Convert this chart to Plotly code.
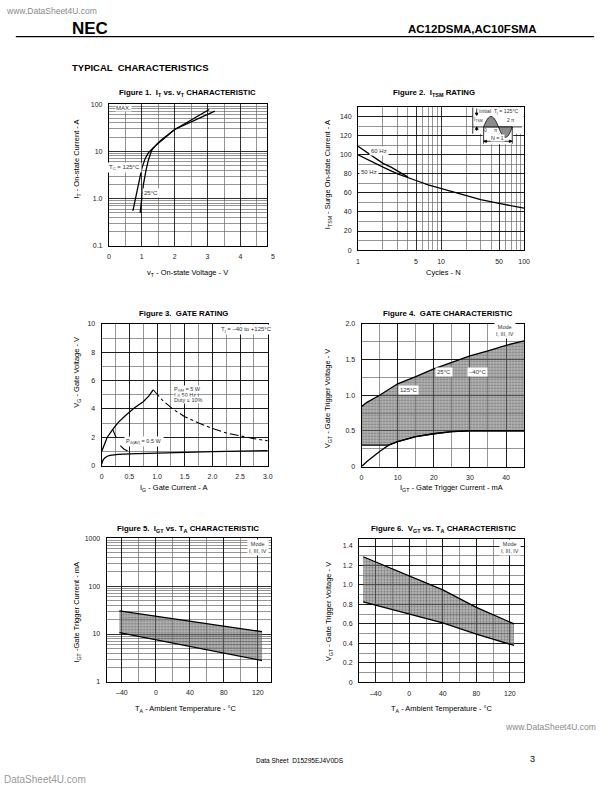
import plotly.graph_objects as go

W, H = 612, 792
FONT = "Liberation Sans, Arial, sans-serif"

# ---------------- data ----------------
# Figure 1: IT vs vT
f1_vt_125 = [0.73, 0.8, 0.9, 1.0, 1.1, 1.2, 1.35, 1.6, 2.0, 2.5, 3.0, 3.22]
f1_it_125 = [0.55, 0.95, 2.0, 4.3, 7.0, 9.3, 12.0, 17.0, 29.0, 42.0, 60.0, 71.0]
f1_vt_25 = [0.95, 1.0, 1.05, 1.13, 1.2, 1.3, 1.45, 1.6, 2.0, 2.5, 3.05]
f1_it_25 = [0.5, 1.0, 2.0, 4.0, 6.5, 10.5, 14.0, 17.5, 29.0, 46.0, 77.0]
f1_y_ticks = [0.1, 1, 10, 100]
f1_y_text = ["0.1", "1.0", "10", "100"]
f1_x_ticks = [0, 1, 2, 3, 4]

# Figure 2: ITSM rating
f2_n_50 = [1, 1.5, 2, 3, 4, 5, 7, 10, 20, 30, 50, 70, 100]
f2_i_50 = [100, 92, 87, 80, 76.5, 73, 68.5, 64.5, 57, 53, 49, 46.5, 44]
f2_n_60 = [1, 1.3, 1.6, 2, 2.5, 3, 4]
f2_i_60 = [109, 102, 96, 91, 87, 83, 76.5]
f2_x_ticks = [1, 5, 10, 50, 100]
f2_y_ticks = [0, 20, 40, 60, 80, 100, 120, 140]

# Figure 3: gate rating
f3_ig_max = [0, 0.05, 0.1, 0.2, 0.3, 0.45, 0.6, 0.75, 0.85, 0.93]
f3_vg_max = [1.0, 1.55, 2.0, 2.55, 3.05, 3.6, 4.1, 4.5, 4.9, 5.35]
f3_ig_5w = [0.93, 1.1, 1.3, 1.5, 1.75, 2.0, 2.25, 2.5, 2.75, 3.0]
f3_vg_5w = [5.35, 4.6, 3.95, 3.45, 3.0, 2.62, 2.3, 2.08, 1.9, 1.75]
f3_ig_05w = [0.2, 0.25, 0.3, 0.35, 0.4, 0.5, 0.6]
f3_vg_05w = [2.55, 2.0, 1.6, 1.35, 1.17, 0.97, 0.86]
f3_ig_min = [0, 0.02, 0.05, 0.1, 0.15, 0.2, 0.3, 0.5, 1.0, 1.5, 2.0, 2.5, 3.0]
f3_vg_min = [0.1, 0.35, 0.52, 0.66, 0.72, 0.76, 0.79, 0.83, 0.9, 0.95, 0.99, 1.02, 1.05]
f3_x_ticks = [0, 0.5, 1.0, 1.5, 2.0, 2.5, 3.0]
f3_x_text = ["0", "0.5", "1.0", "1.5", "2.0", "2.5", "3.0"]
f3_y_ticks = [0, 2, 4, 6, 8, 10]

# Figure 4: gate characteristic
f4_igt_max = [0, 1.5, 5, 10, 15, 20, 25, 30, 35, 40, 45]
f4_vgt_max = [0.84, 0.9, 1.0, 1.16, 1.26, 1.37, 1.46, 1.55, 1.62, 1.7, 1.76]
f4_igt_min = [0, 1.5, 5, 7.5, 10, 15, 20, 25, 30, 35, 40, 45]
f4_vgt_min = [0, 0.07, 0.21, 0.3, 0.35, 0.42, 0.46, 0.49, 0.5, 0.5, 0.5, 0.5]
f4_vgt_floor = 0.3
f4_x_ticks = [0, 10, 20, 30, 40]
f4_y_ticks = [0, 0.5, 1.0, 1.5, 2.0]
f4_y_text = ["0", "0.5", "1.0", "1.5", "2.0"]

# Figure 5: IGT vs TA
f5_ta = [-43, 125]
f5_igt_max = [30.4, 11.2]
f5_igt_min = [10.7, 2.8]
f5_y_ticks = [1, 10, 100, 1000]

# Figure 6: VGT vs TA
f6_ta = [-55, 0, 40, 80, 125]
f6_vgt_max = [1.29, 1.09, 0.95, 0.77, 0.60]
f6_vgt_min = [0.826, 0.70, 0.61, 0.495, 0.378]
f6_y_ticks = [0, 0.2, 0.4, 0.6, 0.8, 1.0, 1.2, 1.4]
f6_y_text = ["0", "0.2", "0.4", "0.6", "0.8", "1.0", "1.2", "1.4"]

ta_ticks = [-40, 0, 40, 80, 120]
ta_text = ["\u201340", "0", "40", "80", "120"]


def X(px):
    return px / W


def Y(py):
    return 1 - py / H


# plot boxes in page pixels: (x0, x1), (ytop, ybottom)
boxes = {
    1: ((108.3, 268.3), (101, 244)),
    2: ((360.7, 529), (104, 248.3)),
    3: ((101, 269.3), (322.7, 465.7)),
    4: ((364.3, 529), (322.7, 466.7)),
    5: ((106, 273), (539, 684)),
    6: ((361.7, 529), (540, 684.3)),
}

fig = go.Figure()


def add_line(n, x, y, dash="solid", width=1.3, **kw):
    fig.add_trace(go.Scatter(
        x=x, y=y, mode="lines", xaxis=f"x{n}", yaxis=f"y{n}",
        line=dict(color="black", width=width, dash=dash),
        showlegend=False, hoverinfo="skip", **kw))


FILL = "rgba(110,110,110,0.55)"
PATTERN = dict(shape=".", fgcolor="#3c3c3c", bgcolor="rgba(125,125,125,0.55)",
               size=3, solidity=0.4)

# Figure 1
add_line(1, f1_vt_125, f1_it_125)
add_line(1, f1_vt_25, f1_it_25)

# Figure 2
add_line(2, f2_n_50, f2_i_50)
add_line(2, f2_n_60, f2_i_60)

# Figure 3
add_line(3, f3_ig_max, f3_vg_max)
add_line(3, f3_ig_5w, f3_vg_5w, dash="dashdot", width=1.1)
add_line(3, f3_ig_05w, f3_vg_05w, dash="dash", width=1.1)
add_line(3, f3_ig_min, f3_vg_min)

# Figure 4
base_i = [f4_igt_min[0]] + [i for i, v in zip(f4_igt_min, f4_vgt_min) if v >= f4_vgt_floor]
base_v = [f4_vgt_floor] + [v for v in f4_vgt_min if v >= f4_vgt_floor]
add_line(4, base_i, base_v)
add_line(4, f4_igt_max, f4_vgt_max, fill="tonexty", fillcolor=FILL, fillpattern=PATTERN)
add_line(4, f4_igt_min, f4_vgt_min)

# Figure 5
add_line(5, f5_ta, f5_igt_min)
add_line(5, f5_ta, f5_igt_max, fill="tonexty", fillcolor=FILL, fillpattern=PATTERN)

# Figure 6
add_line(6, f6_ta, f6_vgt_min)
add_line(6, f6_ta, f6_vgt_max, fill="tonexty", fillcolor=FILL, fillpattern=PATTERN)

# ---------------- axes ----------------
TICKFONT = dict(family=FONT, size=7, color="#222")
MINOR_COL = "#6a6a6a"


def base_axis(n, which, **kw):
    (x0, x1), (yt, yb) = boxes[n]
    d = dict(showline=True, linecolor="black", linewidth=1, mirror=True,
             ticks="", showgrid=True, gridcolor="black", gridwidth=0.8,
             zeroline=False, tickfont=TICKFONT, ticklabelstandoff=4,
             fixedrange=True)
    if which == "x":
        d["domain"] = [X(x0), X(x1)]
        d["anchor"] = f"y{n}"
    else:
        d["domain"] = [Y(yb), Y(yt)]
        d["anchor"] = f"x{n}"
    d.update(kw)
    return d


def log_minor(decades):
    vals = []
    for d in decades:
        for k in range(2, 10):
            vals.append(k * 10 ** d)
    return vals


minor_style = dict(showgrid=True, gridcolor=MINOR_COL, gridwidth=0.7, ticks="")

lay = {}
lay["xaxis"] = base_axis(1, "x", range=[0, 4.8], tickmode="array", tickvals=f1_x_ticks,
                         minor=dict(tickmode="array", tickvals=[0.5, 1.5, 2.5, 3.5, 4.5], **minor_style))
lay["yaxis"] = base_axis(1, "y", type="log", range=[-1, 2], tickmode="array",
                         tickvals=f1_y_ticks, ticktext=f1_y_text,
                         minor=dict(tickmode="array", tickvals=log_minor([-1, 0, 1]), **minor_style))
lay["xaxis2"] = base_axis(2, "x", type="log", range=[0, 2], tickmode="array", tickvals=f2_x_ticks,
                          minor=dict(tickmode="array",
                                     tickvals=[2, 3, 4, 6, 7, 8, 9, 20, 30, 40, 60, 70, 80, 90],
                                     **minor_style))
lay["yaxis2"] = base_axis(2, "y", range=[0, 150], tickmode="array", tickvals=f2_y_ticks,
                          minor=dict(dtick=10, tick0=0, **minor_style))
lay["xaxis3"] = base_axis(3, "x", range=[0, 3], tickmode="array", tickvals=f3_x_ticks,
                          ticktext=f3_x_text, minor=dict(dtick=0.25, tick0=0, **minor_style))
lay["yaxis3"] = base_axis(3, "y", range=[0, 10], tickmode="array", tickvals=f3_y_ticks,
                          minor=dict(dtick=1, tick0=0, **minor_style))
lay["xaxis4"] = base_axis(4, "x", range=[0, 45], tickmode="array", tickvals=f4_x_ticks,
                          minor=dict(dtick=5, tick0=0, **minor_style))
lay["yaxis4"] = base_axis(4, "y", range=[0, 2], tickmode="array", tickvals=f4_y_ticks,
                          ticktext=f4_y_text, minor=dict(dtick=0.25, tick0=0, **minor_style))
lay["xaxis5"] = base_axis(5, "x", range=[-58, 136], tickmode="array", tickvals=ta_ticks,
                          ticktext=ta_text, minor=dict(dtick=20, tick0=0, **minor_style))
lay["yaxis5"] = base_axis(5, "y", type="log", range=[0, 3], tickmode="array",
                          tickvals=f5_y_ticks,
                          minor=dict(tickmode="array", tickvals=log_minor([0, 1, 2]), **minor_style))
lay["xaxis6"] = base_axis(6, "x", range=[-60, 137], tickmode="array", tickvals=ta_ticks,
                          ticktext=ta_text, minor=dict(dtick=20, tick0=0, **minor_style))
lay["yaxis6"] = base_axis(6, "y", range=[0, 1.47], tickmode="array", tickvals=f6_y_ticks,
                          ticktext=f6_y_text, minor=dict(dtick=0.1, tick0=0, **minor_style))

# ---------------- annotations ----------------
anns = []


def ann(text, px, py, size=7, bold=False, xanchor="center", yanchor="middle",
        bg=None, angle=0, color="black", pad=1):
    if bold:
        text = f"<b>{text}</b>"
    a = dict(text=text, x=X(px), y=Y(py), xref="paper", yref="paper",
             xanchor=xanchor, yanchor=yanchor, showarrow=False, textangle=angle,
             font=dict(family=FONT, size=size, color=color), borderpad=pad)
    if bg:
        a["bgcolor"] = bg
    anns.append(a)


# page header / footer
ann("www.DataSheet4U.com", 2, 7, size=8.5, xanchor="left", color="#8a8a8a")
ann("NEC", 69, 25, size=17, bold=True, xanchor="left")
ann("AC12DSMA,AC10FSMA", 543, 25, size=11.5, bold=True, xanchor="right")
ann("TYPICAL  CHARACTERISTICS", 69, 64, size=9.5, bold=True, xanchor="left")
ann("www.DataSheet4U.com", 604, 729, size=8.5, xanchor="right", color="#8a8a8a")
ann("Data Sheet  D15295EJ4V0DS", 302, 763, size=6.5)
ann("3", 538, 762, size=9)
ann("DataSheet4U.com", 0, 782, size=10, xanchor="left", color="#9a9a9a")

# figure titles
TS = 7.8
ann("Figure 1.  I<sub>T</sub> vs. v<sub>T</sub> CHARACTERISTIC", 188, 90, size=TS, bold=True)
ann("Figure 2.  I<sub>TSM</sub> RATING", 438, 90, size=TS, bold=True)
ann("Figure 3.  GATE RATING", 184, 312, size=TS, bold=True)
ann("Figure 4.  GATE CHARACTERISTIC", 452, 312, size=TS, bold=True)
ann("Figure 5.  I<sub>GT</sub> vs. T<sub>A</sub> CHARACTERISTIC", 188, 530, size=TS, bold=True)
ann("Figure 6.  V<sub>GT</sub> vs. T<sub>A</sub> CHARACTERISTIC", 447, 530, size=TS, bold=True)

# x-axis titles
AX = 7.5
ann("v<sub>T</sub> - On-state Voltage - V", 188, 271, size=AX)
ann("Cycles - N", 447, 271, size=AX)
ann("I<sub>G</sub> - Gate Current - A", 174, 488, size=AX)
ann("I<sub>GT</sub> - Gate Trigger Current - mA", 455, 488, size=AX)
ann("T<sub>A</sub> - Ambient Temperature - \u00b0C", 186, 711, size=AX)
ann("T<sub>A</sub> - Ambient Temperature - \u00b0C", 446, 711, size=AX)

# y-axis titles
ann("I<sub>T</sub> - On-state Current - A", 76, 157, size=AX, angle=-90)
ann("I<sub>TSM</sub> - Surge On-state Current - A", 331, 172, size=AX, angle=-90)
ann("V<sub>G</sub> - Gate Voltage - V", 76, 372, size=AX, angle=-90)
ann("V<sub>GT</sub> - Gate Trigger Voltage - V", 331, 398, size=AX, angle=-90)
ann("I<sub>GT</sub> -Gate Trigger Current - mA", 76, 614, size=AX, angle=-90)
ann("V<sub>GT</sub> - Gate Trigger Voltage - V", 331, 613, size=AX, angle=-90)

# extra tick label beyond the drawn grid of figure 1
ann("5", 275, 255, size=7, color="#222")

# in-plot labels
S = 6
ann("MAX.", 123, 104.5, size=S, bg="white", color="#333", pad=0)
ann("T<sub>C</sub> = 125\u00b0C", 124, 165, size=S, bg="white", color="#333")
ann("25\u00b0C", 151, 191, size=S, bg="white", color="#333")
ann("60 Hz", 382, 148, size=S, bg="white", color="#333")
ann("50 Hz", 372, 169, size=S, bg="white", color="#333")
ann("T<sub>j</sub> = \u201340 to +125\u00b0C", 248, 328.5, size=S, bg="white", color="#333")
ann("P<sub>GM</sub> = 5 W", 173, 389, size=5.5, xanchor="left", bg="white", color="#333", pad=0)
ann("f \u2265 50 Hz", 173, 394.5, size=5.5, xanchor="left", bg="white", color="#333", pad=0)
ann("Duty \u2264 10%", 173, 400, size=5.5, xanchor="left", bg="white", color="#333", pad=0)
ann("P<sub>G(AV)</sub> = 0.5 W", 144, 441, size=5.5, bg="white", color="#333")
ann("Mode<br>I, III, IV", 510, 329.5, size=5.5, bg="white", color="#333")
ann("125\u00b0C", 412, 389, size=S, bg="white", color="#333")
ann("25\u00b0C", 448, 371, size=S, bg="white", color="#333")
ann("\u201340\u00b0C", 482, 371, size=S, bg="white", color="#333")
ann("Mode<br>I, III, IV", 259, 548.5, size=5.5, bg="white", color="#333")
ann("Mode<br>I, III, IV", 515, 548.5, size=5.5, bg="white", color="#333")

# Figure 2 inset (waveform icon)
ann("Initial  T<sub>j</sub> = 125\u00b0C", 504, 108, size=5.2, bg="white", color="#333", pad=0)
ann("I<sub>TSM</sub>", 483, 117, size=5, color="#333", pad=0)
ann("0", 490, 127.5, size=4.8, color="#333", pad=0)
ann("\u03c0", 501, 127.5, size=4.8, color="#333", pad=0)
ann("2 \u03c0", 516, 118, size=4.8, color="#333", pad=0)

shapes = []


def P(px, py):
    return f"{X(px):.5f},{Y(py):.5f}"


def rect(x0, y0, x1, y1, fill="white"):
    shapes.append(dict(type="rect", xref="paper", yref="paper",
                       x0=X(x0), x1=X(x1), y0=Y(y1), y1=Y(y0),
                       fillcolor=fill, line=dict(width=0, color="rgba(0,0,0,0)"),
                       layer="above"))


def seg(x0, y0, x1, y1, w=0.8):
    shapes.append(dict(type="line", xref="paper", yref="paper",
                       x0=X(x0), x1=X(x1), y0=Y(y0), y1=Y(y1),
                       line=dict(color="black", width=w), layer="above"))


def path(d, fill="rgba(0,0,0,0)"):
    shapes.append(dict(type="path", xref="paper", yref="paper", path=d,
                       fillcolor=fill, line=dict(color="black", width=0.8), layer="above"))


rect(477, 104.5, 528.5, 131)
rect(487, 131, 518, 141.5)
seg(477, 104.5, 477, 131)
seg(477, 124, 527, 124)
# positive and negative half-cycles
path(f"M {P(488, 124)} C {P(493.5, 110)} {P(497.5, 110)} {P(503, 124)} Z", fill="#8c8c8c")
path(f"M {P(503, 124)} C {P(508.5, 138)} {P(512, 138)} {P(517, 124)} Z", fill="#8c8c8c")
# ITSM indicator arrow
seg(481, 105.5, 481, 112)
seg(481, 124, 481, 128)
path(f"M {P(479.5, 110)} L {P(482.5, 110)} L {P(481, 112.5)} Z", fill="black")
path(f"M {P(479.5, 126.5)} L {P(482.5, 126.5)} L {P(481, 124)} Z", fill="black")
# N = 1 bracket
seg(488, 124, 488, 141)
seg(517, 124, 517, 141)
seg(488, 138.5, 517, 138.5)
path(f"M {P(488, 138.5)} L {P(491, 137.3)} L {P(491, 139.7)} Z", fill="black")
path(f"M {P(517, 138.5)} L {P(514, 137.3)} L {P(514, 139.7)} Z", fill="black")
ann("N = 1", 502.5, 135, size=5.2, bg="white", color="#333", pad=0)

# header rule
shapes.append(dict(type="line", xref="paper", yref="paper", x0=X(14), x1=X(600),
                   y0=Y(33), y1=Y(33), line=dict(color="black", width=1.2)))

fig.update_layout(
    width=W, height=H, margin=dict(l=0, r=0, t=0, b=0),
    paper_bgcolor="white", plot_bgcolor="white",
    font=dict(family=FONT, color="black"),
    showlegend=False, annotations=anns, shapes=shapes, **lay)

fig.write_html("out.html", config={"displayModeBar": False, "staticPlot": True},
               post_script="document.body.style.margin='0';document.body.style.overflow='hidden';")
